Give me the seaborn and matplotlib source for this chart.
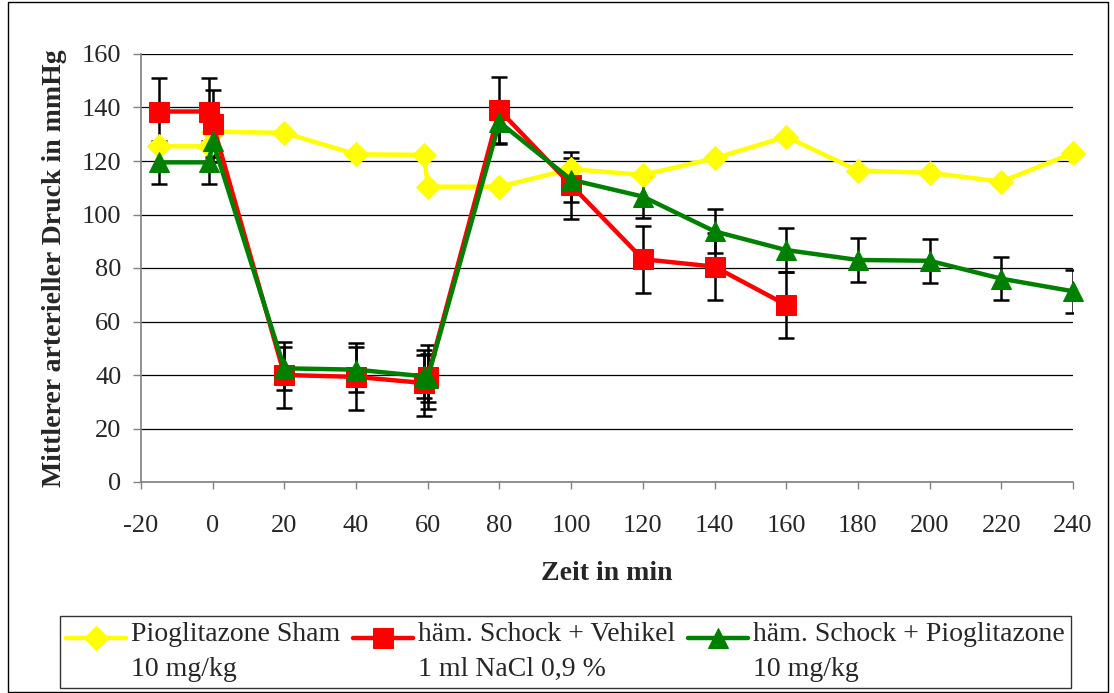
import matplotlib
matplotlib.use("Agg")
import matplotlib.pyplot as plt
from matplotlib.patches import Rectangle
from matplotlib.legend_handler import HandlerLine2D
import seaborn as sns
import pandas as pd

# Zeitpunkte (min) und mittlerer arterieller Druck (mmHg)
t_sham = [-15, -1, 0, 20, 40, 59, 60, 80, 100, 120, 140, 160, 180, 200, 220, 240]
map_sham = [125.5, 125.5, 131, 130.5, 122.5, 122.3, 110.4, 110.4, 117, 114.8,
            121, 129.1, 116.4, 115.6, 112.3, 122.9]

t_veh = [-15, -1, 0, 20, 40, 59, 60, 80, 100, 120, 140, 160]
map_veh = [138.5, 138.5, 134, 40, 39.3, 37, 39.4, 139, 111, 83.3, 80.5, 66.2]
err_veh = [12.5, 12.5, 12.5, 12.5, 12.5, 12.3, 12, 12.3, 12.5, 12.5, 12.5, 12.4]

t_pio = [-15, -1, 0, 20, 40, 59, 60, 80, 100, 120, 140, 160, 180, 200, 220, 240]
map_pio = [119.5, 119.5, 127.5, 42.5, 42, 39.5, 39, 134.5, 113, 106.7, 93.7,
           86.7, 83, 82.7, 76, 71.3]
err_pio = [8, 8, 8, 8, 8.3, 8, 9, 8, 8.3, 8, 8.2, 8.1, 8.1, 8.2, 8.1, 8]

labels = ["Pioglitazone Sham\n10 mg/kg",
          "häm. Schock + Vehikel\n1 ml NaCl 0,9 %",
          "häm. Schock + Pioglitazone\n10 mg/kg"]
x_ticks = list(range(-20, 241, 20))
y_ticks = list(range(0, 161, 20))


class FirstLineHandler(HandlerLine2D):
    """Legend handle placed level with the first line of a two-line label."""

    def create_artists(self, legend, orig_handle, xdescent, ydescent,
                       width, height, fontsize, trans):
        return super().create_artists(legend, orig_handle, xdescent,
                                      ydescent - 20, width, height,
                                      fontsize, trans)


sns.set_theme(style="white")
plt.rcParams["font.family"] = ["Liberation Serif", "DejaVu Serif"]

fig = plt.figure(figsize=(11.14, 6.93), dpi=100)
ax = fig.add_axes([141 / 1114, 1 - 482 / 693, (1073 - 141) / 1114, (482 - 54) / 693])

df_sham = pd.DataFrame({"t": t_sham, "map": map_sham})
df_veh = pd.DataFrame({"t": t_veh, "map": map_veh})
df_pio = pd.DataFrame({"t": t_pio, "map": map_pio})

ax.errorbar(t_veh, map_veh, yerr=err_veh, fmt="none", ecolor="black",
            elinewidth=1.8, capsize=5.5, capthick=1.8, zorder=3)
ax.errorbar(t_pio, map_pio, yerr=err_pio, fmt="none", ecolor="black",
            elinewidth=1.8, capsize=5.5, capthick=1.8, zorder=3)
sns.lineplot(data=df_sham, x="t", y="map", sort=False, estimator=None, ax=ax,
             color="#FFFF00", linewidth=3.2, marker="D", markersize=12,
             markeredgecolor="#FFFF00", label=labels[0], zorder=4,
             clip_on=False)
sns.lineplot(data=df_veh, x="t", y="map", sort=False, estimator=None, ax=ax,
             color="#FF0000", linewidth=3.2, marker="s", markersize=14,
             markeredgecolor="#FF0000", label=labels[1], zorder=5,
             clip_on=False)
sns.lineplot(data=df_pio, x="t", y="map", sort=False, estimator=None, ax=ax,
             color="#008000", linewidth=3.2, marker="^", markersize=15,
             markeredgecolor="#008000", label=labels[2], zorder=6,
             clip_on=False)

ax.set_xlim(-20, 240)
ax.set_ylim(0, 160)
ax.set_xticks(x_ticks)
ax.set_yticks(y_ticks)
ax.set_xticklabels([str(v) for v in x_ticks])
ax.set_yticklabels([str(v) for v in y_ticks])
ax.tick_params(axis="x", direction="out", length=5, width=1, color="#808080",
               pad=19, labelsize=19, bottom=True)
ax.tick_params(axis="y", direction="out", length=6, width=1, color="#808080",
               pad=8, labelsize=19, left=True)

ax.grid(axis="y", color="black", linewidth=0.9)
ax.grid(axis="x", visible=False)
ax.set_axisbelow(True)
for side in ("top", "right"):
    ax.spines[side].set_visible(False)
for side in ("left", "bottom"):
    ax.spines[side].set_color("#808080")
    ax.spines[side].set_linewidth(1.2)
    ax.spines[side].set_zorder(2)

ax.set_xlabel("Zeit in min", fontsize=20, fontweight="bold", labelpad=17)
ax.set_ylabel("Mittlerer arterieller Druck in mmHg", fontsize=20,
              fontweight="bold", labelpad=11)

handles, lbls = ax.get_legend_handles_labels()
ax.get_legend().remove()
leg = fig.legend(handles, lbls, loc="upper left", ncol=3,
                 bbox_to_anchor=(60 / 1114, 1 - 616 / 693),
                 fontsize=20, frameon=True, fancybox=False, edgecolor="black",
                 handlelength=2.15, handletextpad=0.2, columnspacing=0.45,
                 borderpad=0.22, borderaxespad=0,
                 handler_map={h: FirstLineHandler() for h in handles})
leg.get_frame().set_linewidth(1.0)
for txt in leg.get_texts():
    txt.set_linespacing(1.5)

fig.patches.append(Rectangle((8 / 1114, 1 / 693), 1100 / 1114, 690 / 693,
                             transform=fig.transFigure, fill=False,
                             edgecolor="black", linewidth=1.0))

fig.savefig("out.png", dpi=100, facecolor="white")
